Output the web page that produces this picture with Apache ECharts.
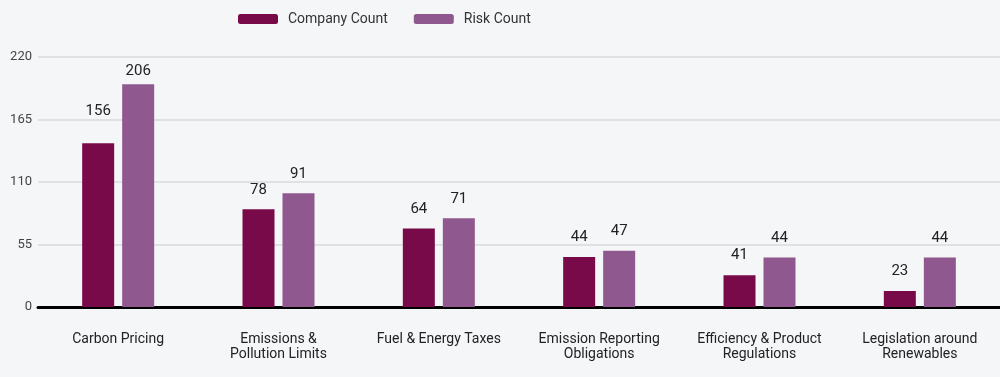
<!DOCTYPE html>
<html>
<head>
<meta charset="utf-8">
<script src="https://cdn.jsdelivr.net/npm/echarts@6/dist/echarts.min.js"></script>
<style>
  html, body { margin: 0; padding: 0; background: #f5f6f8; }
  #chart { width: 1000px; height: 377px; }
</style>
</head>
<body>
<div id="chart"></div>
<script>
const categories = [
  'Carbon Pricing',
  'Emissions &\nPollution Limits',
  'Fuel & Energy Taxes',
  'Emission Reporting\nObligations',
  'Efficiency & Product\nRegulations',
  'Legislation around\nRenewables'
];
// bar heights as drawn in the picture
const companyBars = [144, 86, 69, 44, 28, 14];
const riskBars = [196, 100, 78, 49.5, 43.5, 43.5];
// numbers printed above the bars
const companyLabels = [156, 78, 64, 44, 41, 23];
const riskLabels = [206, 91, 71, 47, 44, 44];
const yTicks = [0, 55, 110, 165, 220];

const chart = echarts.init(document.getElementById('chart'));

const labelStyle = {
  show: true,
  position: 'top',
  distance: 12,
  fontFamily: 'Roboto',
  fontSize: 15,
  color: '#222'
};

const buildData = (bars, labels, firstLift) => bars.map((v, i) => {
  const item = { value: v, shown: labels[i] };
  if (i === 0 && firstLift) item.label = { distance: 12 + firstLift };
  return item;
});

chart.setOption({
  backgroundColor: '#f5f6f8',
  textStyle: { fontFamily: 'Roboto' },
  legend: {
    top: 7,
    left: 233,
    itemWidth: 40,
    itemHeight: 10,
    itemGap: 26,
    textStyle: { fontSize: 14, color: '#333', padding: [0, 0, 0, 5] },
    data: ['Company Count', 'Risk Count']
  },
  grid: { left: 38, right: 0, top: 57, bottom: 70 },
  xAxis: {
    type: 'category',
    data: categories,
    axisLine: { lineStyle: { color: '#000', width: 3 } },
    axisTick: { show: false },
    axisLabel: { color: '#222', fontSize: 14, lineHeight: 15, margin: 25, interval: 0 }
  },
  yAxis: {
    type: 'value',
    min: yTicks[0],
    max: yTicks[yTicks.length - 1],
    interval: yTicks[1] - yTicks[0],
    axisLine: { show: false },
    axisTick: { show: false },
    axisLabel: { color: '#444', fontSize: 13, margin: 6 },
    splitLine: { lineStyle: { color: '#d9dadc', width: 1.5 } }
  },
  series: [
    {
      name: 'Company Count',
      type: 'bar',
      barWidth: 32,
      barGap: '25%',
      itemStyle: { color: '#790a4a' },
      label: Object.assign({}, labelStyle, { formatter: p => p.data.shown }),
      data: buildData(companyBars, companyLabels, 13)
    },
    {
      name: 'Risk Count',
      type: 'bar',
      barWidth: 32,
      itemStyle: { color: '#8f588f' },
      label: Object.assign({}, labelStyle, { formatter: p => p.data.shown }),
      data: buildData(riskBars, riskLabels, -6)
    }
  ]
});
</script>
</body>
</html>
